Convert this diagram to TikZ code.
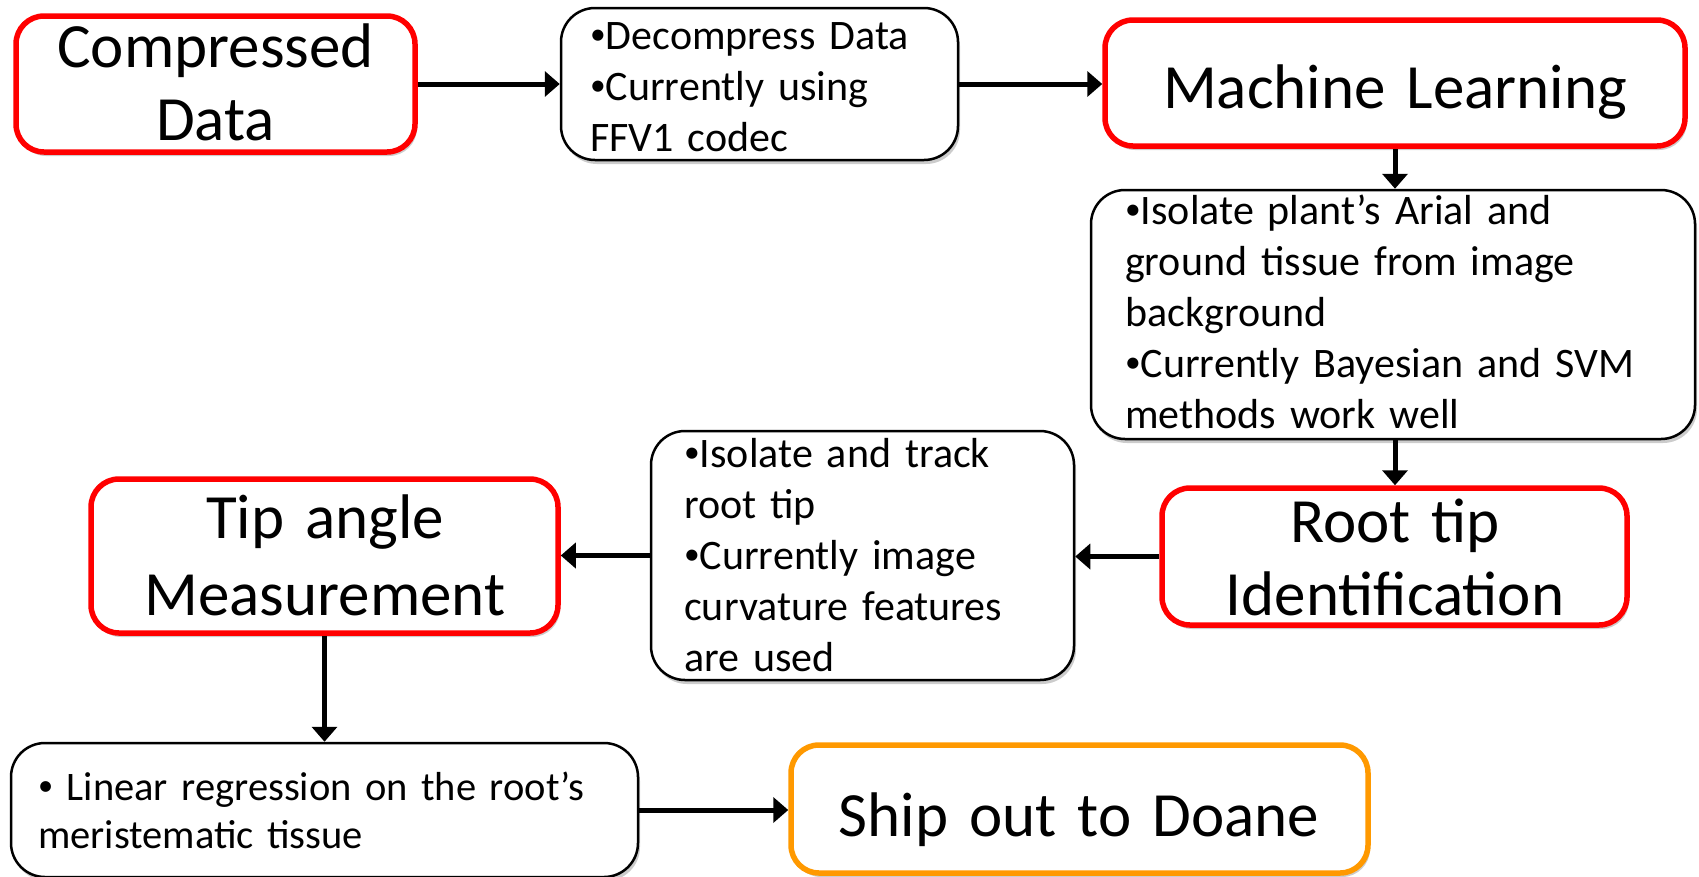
\documentclass[tikz,border=0pt]{standalone}
\usepackage{fontspec}
\usepackage{graphicx}
\setmainfont{Carlito}
\usetikzlibrary{arrows.meta,shadows}

\definecolor{boxred}{RGB}{255,0,0}
\definecolor{boxorange}{RGB}{255,153,0}

% small raised bullet used in the note boxes
\newcommand{\dotmark}{\raisebox{0.1em}{\scalebox{0.75}{•}}}

\tikzset{
  softshadow/.style={drop shadow={shadow xshift=2pt,shadow yshift=-4pt,opacity=0.2,fill=black}},
  redbox/.style={draw=boxred,line width=5.5pt,rounded corners=28pt,fill=white,softshadow},
  orangebox/.style={draw=boxorange,line width=5.5pt,rounded corners=28pt,fill=white,softshadow},
  notebox/.style={draw=black,line width=2.5pt,rounded corners=34pt,fill=white,softshadow},
  bigtext/.style={font=\fontsize{63}{73}\selectfont,text width=700pt,align=center,inner sep=0pt,anchor=base},
  smalltext/.style={font=\fontsize{42}{51}\selectfont,text width=700pt,align=left,inner sep=0pt,anchor=base west},
  arr/.style={line width=5pt,-{Triangle[length=15pt,width=25pt]}}
}

\begin{document}
\begin{tikzpicture}[x=1pt,y=-1pt]
\useasboundingbox (0,0) rectangle (1699,876);

% boxes
\node[redbox,minimum width=399pt,minimum height=136pt] (cd) at (215.5,84) {};
\node[notebox,minimum width=397pt,minimum height=152pt] (dec) at (759.5,84) {};
\node[redbox,minimum width=580pt,minimum height=126pt] (ml) at (1395,83) {};
\node[notebox,minimum width=604pt,minimum height=249pt] (ip) at (1393,314.5) {};
\node[redbox,minimum width=465pt,minimum height=137pt] (rt) at (1394.5,556.5) {};
\node[notebox,minimum width=423pt,minimum height=249pt] (it) at (862.5,555.5) {};
\node[redbox,minimum width=467pt,minimum height=154pt] (ta) at (324.5,556) {};
\node[notebox,minimum width=627pt,minimum height=134pt] (lr) at (324.5,810) {};
\node[orangebox,minimum width=577pt,minimum height=128pt] (sd) at (1079.5,809) {};

% labels
\node[bigtext] (cdt) at (215.5,67) {Compressed\\Data};
\node[smalltext] (dect) at (590,49) {\dotmark Decompress Data\\\dotmark Currently using\\FFV1 codec};
\node[bigtext] (mlt) at (1395,108) {Machine Learning};
\node[smalltext] (ipt) at (1125,224) {\dotmark Isolate plant’s Arial and\\ground tissue from image\\background\\\dotmark Currently Bayesian and SVM\\methods work well};
\node[bigtext] (rtt) at (1395,542) {Root tip\\Identification};
\node[smalltext] (itt) at (684,467) {\dotmark Isolate and track\\root tip\\\dotmark Currently image\\curvature features\\are used};
\node[bigtext,font=\fontsize{63}{77}\selectfont] (tat) at (325,538) {Tip angle\\Measurement};
\node[smalltext,font=\fontsize{40.5}{48}\selectfont] (lrt) at (38,800) {\dotmark{} Linear regression on the root’s\\meristematic tissue};
\node[bigtext] (sdt) at (1079,836) {Ship out to Doane};

% connectors
\draw[arr] (cd.east) -- (cd.east -| dec.west);
\draw[arr] (dec.east) -- (dec.east -| ml.west);
\draw[arr] (ml.south) -- (ml.south |- ip.north);
\draw[arr] (ml.south |- ip.south) -- (ml.south |- rt.north);
\draw[arr] (rt.west) -- (rt.west -| it.east);
\draw[arr] (it.west) -- (it.west -| ta.east);
\draw[arr] (ta.south) -- (ta.south |- lr.north);
\draw[arr] (lr.east) -- (lr.east -| sd.west);
\end{tikzpicture}
\end{document}
